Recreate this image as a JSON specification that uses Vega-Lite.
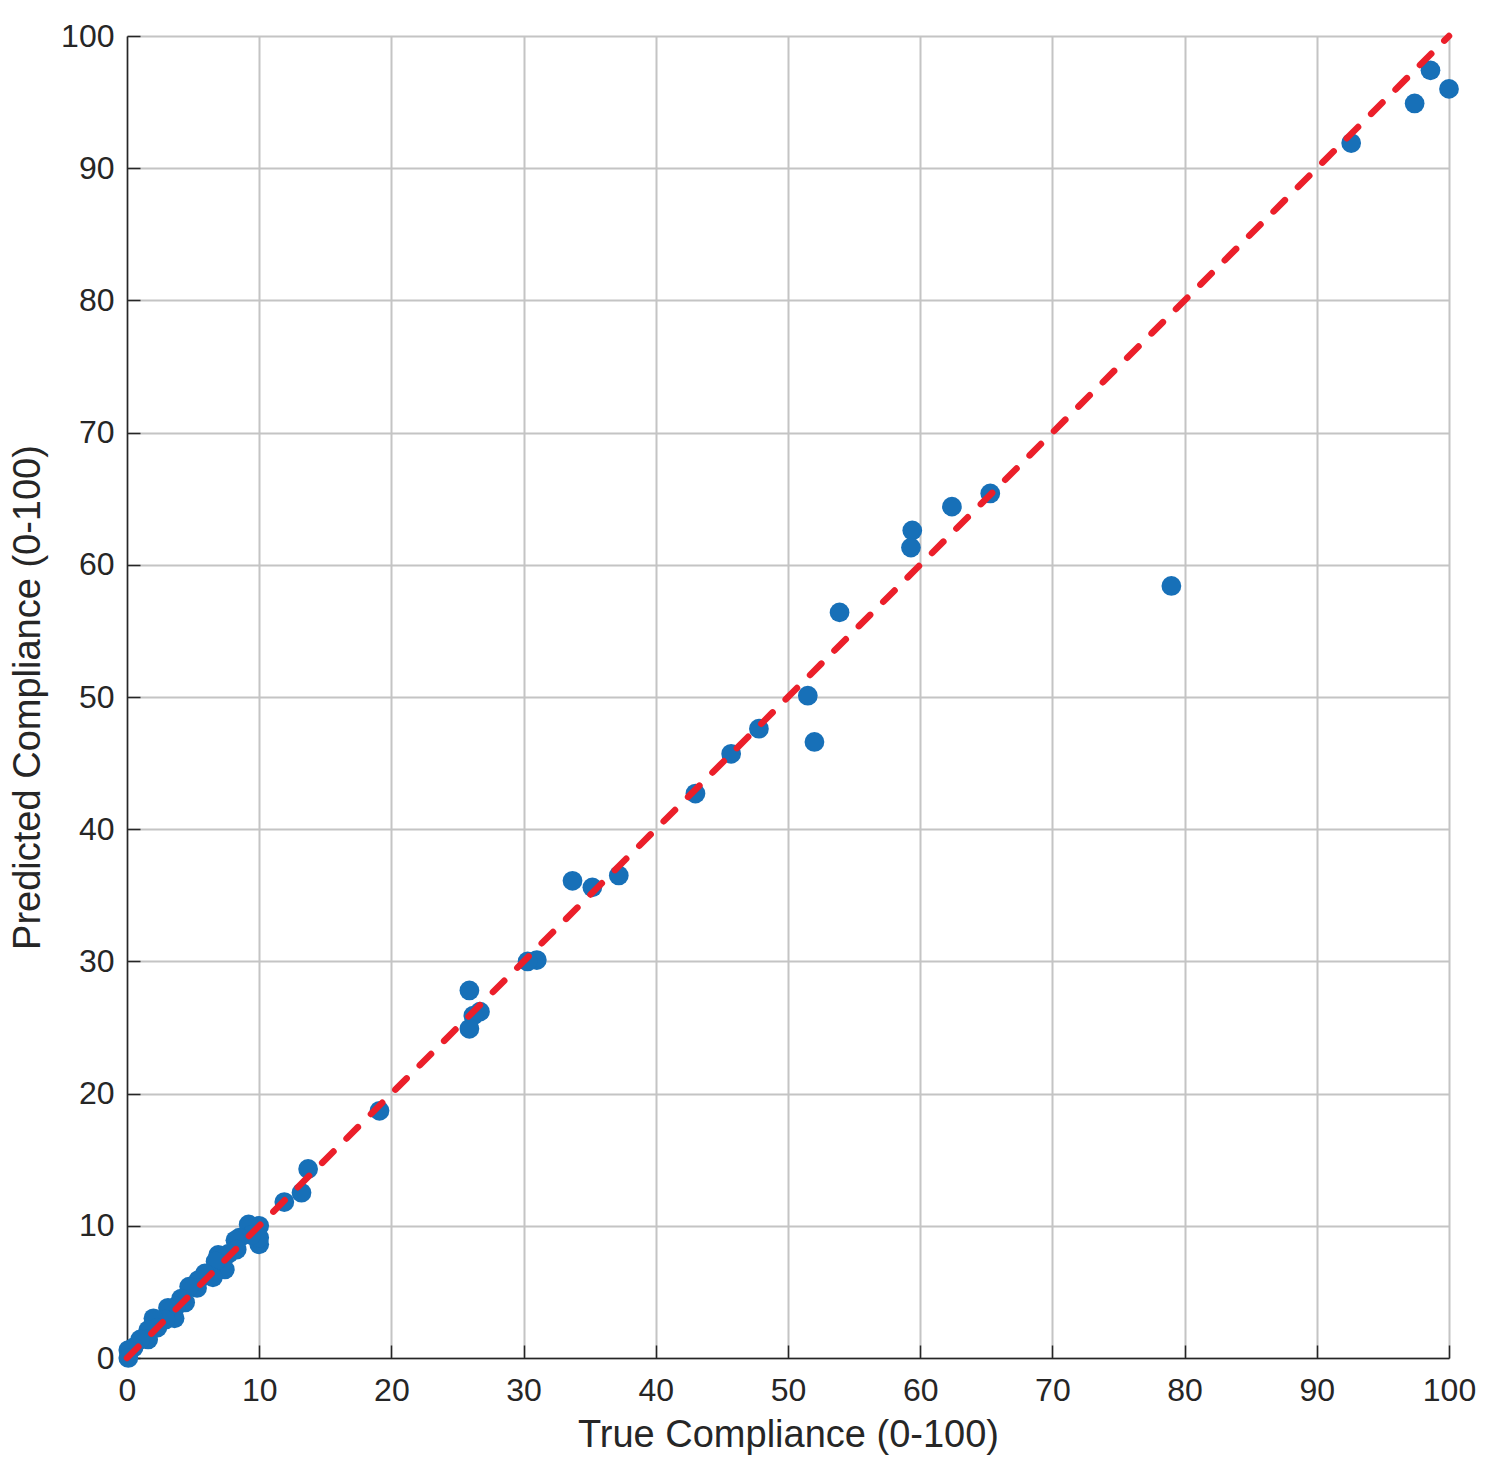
{
  "$schema": "https://vega.github.io/schema/vega-lite/v6.json",
  "width": 1322,
  "height": 1322,
  "autosize": {"type": "none"},
  "padding": {"left": 127, "top": 36, "right": 44, "bottom": 115},
  "background": "white",
  "config": {
    "view": {"stroke": null},
    "font": "Liberation Sans",
    "axis": {
      "labelFont": "Liberation Sans",
      "titleFont": "Liberation Sans",
      "labelFontSize": 32,
      "titleFontSize": 38,
      "titleFontWeight": "normal",
      "labelColor": "#262626",
      "titleColor": "#262626",
      "domainColor": "#262626",
      "domainWidth": 1.5,
      "tickColor": "#262626",
      "tickWidth": 1.5,
      "gridColor": "#c4c4c4",
      "gridWidth": 2,
      "gridOpacity": 1
    }
  },
  "datasets": {
    "points": [
      {"true": 100.0, "pred": 96.0},
      {"true": 98.6, "pred": 97.4},
      {"true": 97.4, "pred": 94.9},
      {"true": 92.6, "pred": 91.9},
      {"true": 79.0, "pred": 58.4},
      {"true": 65.3, "pred": 65.4},
      {"true": 62.4, "pred": 64.4},
      {"true": 59.4, "pred": 62.6},
      {"true": 59.3, "pred": 61.3},
      {"true": 53.9, "pred": 56.4},
      {"true": 51.5, "pred": 50.1},
      {"true": 52.0, "pred": 46.6},
      {"true": 47.8, "pred": 47.6},
      {"true": 45.7, "pred": 45.7},
      {"true": 43.0, "pred": 42.7},
      {"true": 37.2, "pred": 36.5},
      {"true": 35.2, "pred": 35.6},
      {"true": 33.7, "pred": 36.1},
      {"true": 31.0, "pred": 30.1},
      {"true": 30.3, "pred": 30.0},
      {"true": 25.9, "pred": 27.8},
      {"true": 26.7, "pred": 26.2},
      {"true": 26.2, "pred": 25.9},
      {"true": 25.9, "pred": 24.9},
      {"true": 19.1, "pred": 18.7},
      {"true": 13.7, "pred": 14.3},
      {"true": 13.2, "pred": 12.5},
      {"true": 11.9, "pred": 11.8},
      {"true": 10.0, "pred": 10.0},
      {"true": 9.2, "pred": 10.1},
      {"true": 10.0, "pred": 8.6},
      {"true": 10.0, "pred": 9.1},
      {"true": 9.4, "pred": 9.3},
      {"true": 8.5, "pred": 9.1},
      {"true": 8.2, "pred": 8.9},
      {"true": 8.3, "pred": 8.2},
      {"true": 7.7, "pred": 7.9},
      {"true": 7.4, "pred": 6.7},
      {"true": 6.9, "pred": 7.8},
      {"true": 6.7, "pred": 7.3},
      {"true": 6.5, "pred": 6.1},
      {"true": 5.9, "pred": 6.4},
      {"true": 5.4, "pred": 5.9},
      {"true": 5.3, "pred": 5.3},
      {"true": 4.7, "pred": 5.4},
      {"true": 4.4, "pred": 4.2},
      {"true": 4.1, "pred": 4.5},
      {"true": 3.7, "pred": 3.9},
      {"true": 3.6, "pred": 3.0},
      {"true": 3.1, "pred": 3.8},
      {"true": 2.9, "pred": 2.9},
      {"true": 2.0, "pred": 3.0},
      {"true": 2.3, "pred": 2.3},
      {"true": 1.6, "pred": 2.1},
      {"true": 1.6, "pred": 1.4},
      {"true": 1.0, "pred": 1.4},
      {"true": 0.5, "pred": 0.8},
      {"true": 0.1, "pred": 0.6},
      {"true": 0.1, "pred": 0.0}
    ],
    "diagonal": [
      {"true": 0, "pred": 0},
      {"true": 100, "pred": 100}
    ]
  },
  "resolve": {"axis": {"x": "independent", "y": "independent"}},
  "layer": [
    {
      "data": {"name": "points"},
      "mark": {"type": "point", "shape": "circle", "filled": true, "opacity": 1, "size": 390, "color": "#1770b8"},
      "encoding": {
        "x": {
          "field": "true",
          "type": "quantitative",
          "scale": {"domain": [0, 100], "nice": false, "zero": false},
          "axis": {
            "values": [0, 10, 20, 30, 40, 50, 60, 70, 80, 90, 100],
            "ticks": false,
            "labelPadding": 17,
            "labelFlush": false,
            "title": "True Compliance (0-100)",
            "titleX": 661,
            "titleY": 77,
            "titleBaseline": "middle",
            "titleAnchor": "middle"
          }
        },
        "y": {
          "field": "pred",
          "type": "quantitative",
          "scale": {"domain": [0, 100], "nice": false, "zero": false},
          "axis": {
            "values": [0, 10, 20, 30, 40, 50, 60, 70, 80, 90, 100],
            "ticks": false,
            "labelPadding": 13,
            "labelFlush": false,
            "title": "Predicted Compliance (0-100)",
            "titleX": -99,
            "titleY": 661,
            "titleBaseline": "middle",
            "titleAnchor": "middle"
          }
        }
      }
    },
    {
      "data": {"name": "diagonal"},
      "mark": {"type": "line", "color": "#eb1f2a", "strokeWidth": 6.5, "strokeDash": [16, 18.5], "strokeCap": "round"},
      "encoding": {
        "x": {
          "field": "true",
          "type": "quantitative",
          "axis": {
            "orient": "top",
            "offset": -1322,
            "values": [0, 10, 20, 30, 40, 50, 60, 70, 80, 90, 100],
            "labels": false,
            "domain": false,
            "grid": false,
            "ticks": true,
            "tickSize": 13,
            "title": null
          }
        },
        "y": {
          "field": "pred",
          "type": "quantitative",
          "axis": {
            "orient": "right",
            "offset": -1322,
            "values": [0, 10, 20, 30, 40, 50, 60, 70, 80, 90, 100],
            "labels": false,
            "domain": false,
            "grid": false,
            "ticks": true,
            "tickSize": 13,
            "title": null
          }
        }
      }
    }
  ]
}
